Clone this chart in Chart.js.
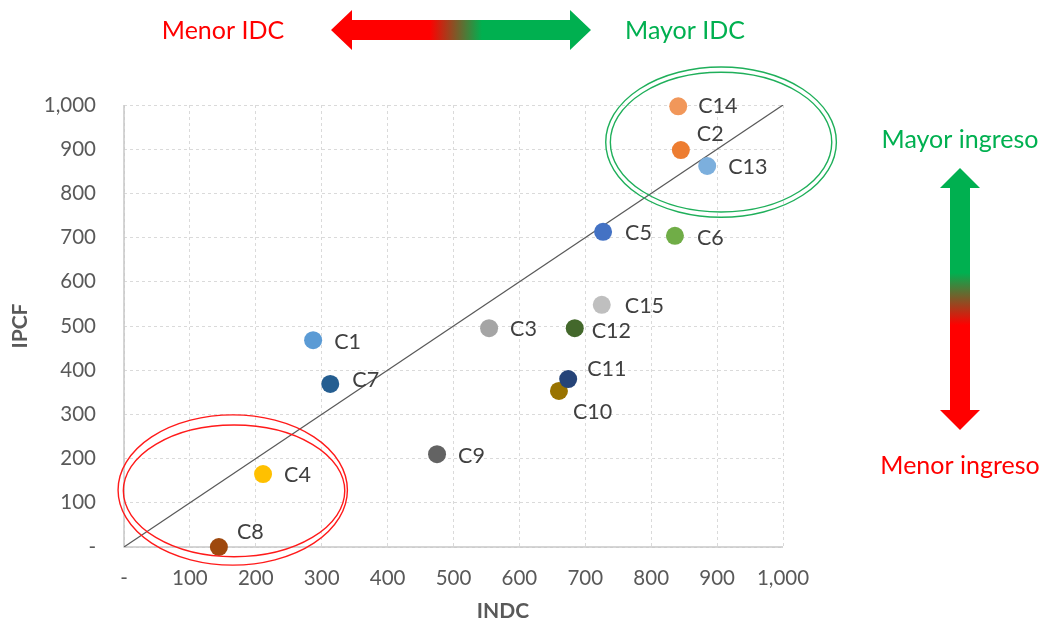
<!DOCTYPE html>
<html><head><meta charset="utf-8">
<script src="https://cdn.jsdelivr.net/npm/chart.js@4"></script>
<style>html,body{margin:0;padding:0;background:#fff}#wrap{width:1044px;height:627px}</style>
</head><body><div id="wrap"><canvas id="c" width="1044" height="627"></canvas></div>
<script>
const labels = ["C1","C2","C3","C4","C5","C6","C7","C8","C9","C10","C11","C12","C13","C14","C15"];
const indc   = [287, 845, 554, 211, 727, 836, 313, 144, 475, 660, 674, 684, 885, 841, 725];
const ipcf   = [468, 898, 495, 165, 713, 704, 369,   0, 210, 353, 380, 495, 862, 997, 548];
const colors = ["#5B9BD5","#ED7D31","#A5A5A5","#FFC000","#4472C4","#70AD47","#255E91","#9E480E","#636363","#997300","#264478","#43682B","#7CAFDD","#F1975A","#BFBFBF"];
const labelOffsets = [[21,2],[16,-16],[21,1],[21,1],[22,1],[22,2],[22,-4],[18,-15],[21,2],[14,21],[19,-10],[17,3],[21,1],[20,0],[23,1]];
const axisTicks = [0,100,200,300,400,500,600,700,800,900,1000];
const refLine = [{x:0,y:0},{x:1000,y:1000}];
// ellipses in data units: [cx, cy, rx, ry]
const greenEllipses = [[906,916,175,170],[906,916,168,158]];
const redEllipses = [[165,129,174,170],[167,127,168,149]];

const FONT = "Lato, 'Open Sans', sans-serif";
const fmt = v => v === 0 ? "-" : v.toLocaleString("en-US");

const pts = indc.map((x,i)=>({x:x, y:ipcf[i]}));

function arrowH(ctx, x1, x2, yc, shaftH, headH, headL){
  ctx.beginPath();
  ctx.moveTo(x1, yc);
  ctx.lineTo(x1+headL, yc-headH/2);
  ctx.lineTo(x1+headL, yc-shaftH/2);
  ctx.lineTo(x2-headL, yc-shaftH/2);
  ctx.lineTo(x2-headL, yc-headH/2);
  ctx.lineTo(x2, yc);
  ctx.lineTo(x2-headL, yc+headH/2);
  ctx.lineTo(x2-headL, yc+shaftH/2);
  ctx.lineTo(x1+headL, yc+shaftH/2);
  ctx.lineTo(x1+headL, yc+headH/2);
  ctx.closePath();
}
function arrowV(ctx, y1, y2, xc, shaftW, headW, headL){
  ctx.beginPath();
  ctx.moveTo(xc, y1);
  ctx.lineTo(xc+headW/2, y1+headL);
  ctx.lineTo(xc+shaftW/2, y1+headL);
  ctx.lineTo(xc+shaftW/2, y2-headL);
  ctx.lineTo(xc+headW/2, y2-headL);
  ctx.lineTo(xc, y2);
  ctx.lineTo(xc-headW/2, y2-headL);
  ctx.lineTo(xc-shaftW/2, y2-headL);
  ctx.lineTo(xc-shaftW/2, y1+headL);
  ctx.lineTo(xc-headW/2, y1+headL);
  ctx.closePath();
}

const deco = {
  id:'deco',
  beforeDatasetsDraw(chart){
    // solid axis lines
    const ctx = chart.ctx, a = chart.chartArea;
    ctx.save();
    ctx.strokeStyle = '#C8C8C8'; ctx.lineWidth = 1.5;
    ctx.beginPath();
    ctx.moveTo(a.left, a.top); ctx.lineTo(a.left, a.bottom); ctx.lineTo(a.right, a.bottom);
    ctx.stroke();
    ctx.restore();
  },
  afterDatasetsDraw(chart){
    const ctx = chart.ctx, xs = chart.scales.x, ys = chart.scales.y;
    ctx.save();
    // point labels
    ctx.font = "21.5px " + FONT;
    ctx.fillStyle = "#404040";
    ctx.textAlign = "left"; ctx.textBaseline = "middle";
    labels.forEach((l,i)=>{
      const px = xs.getPixelForValue(indc[i]), py = ys.getPixelForValue(ipcf[i]);
      ctx.fillText(l, px+labelOffsets[i][0], py+labelOffsets[i][1]);
    });
    // ellipses
    const drawE = (arr, col)=>{
      ctx.strokeStyle = col; ctx.lineWidth = 1.4;
      arr.forEach(e=>{
        const cx = xs.getPixelForValue(e[0]), cy = ys.getPixelForValue(e[1]);
        const rx = xs.getPixelForValue(e[0]+e[2]) - cx, ry = cy - ys.getPixelForValue(e[1]+e[3]);
        ctx.beginPath(); ctx.ellipse(cx, cy, rx, ry, 0, 0, Math.PI*2); ctx.stroke();
      });
    };
    drawE(greenEllipses, "#1FAF5A");
    drawE(redEllipses, "#FF1A1A");
    ctx.restore();
  },
  afterDraw(chart){
    const ctx = chart.ctx;
    ctx.save();
    // horizontal arrow
    let g = ctx.createLinearGradient(330,0,592,0);
    g.addColorStop(0,"#FF0000"); g.addColorStop(0.38,"#FF0000");
    g.addColorStop(0.58,"#00B050"); g.addColorStop(1,"#00B050");
    ctx.fillStyle = g;
    arrowH(ctx, 331, 591, 30, 20, 40, 21);
    ctx.fill();
    // vertical arrow
    g = ctx.createLinearGradient(0,168,0,430);
    g.addColorStop(0,"#00B050"); g.addColorStop(0.40,"#00B050");
    g.addColorStop(0.60,"#FF0000"); g.addColorStop(1,"#FF0000");
    ctx.fillStyle = g;
    arrowV(ctx, 168, 430, 960, 20, 40, 20);
    ctx.fill();
    // texts
    ctx.font = "25px " + FONT;
    ctx.textBaseline = "middle"; ctx.textAlign = "center";
    ctx.fillStyle = "#FF0000"; ctx.fillText("Menor IDC", 223, 31);
    ctx.fillStyle = "#00B050"; ctx.fillText("Mayor IDC", 685, 31);
    ctx.fillStyle = "#00B050"; ctx.fillText("Mayor ingreso", 960, 140);
    ctx.fillStyle = "#FF0000"; ctx.fillText("Menor ingreso", 960, 466);
    // x axis title
    ctx.font = "bold 21px " + FONT;
    ctx.fillStyle = "#595959";
    ctx.fillText("INDC", 503, 611);
    ctx.restore();
  }
};

new Chart(document.getElementById('c'), {
  type:'scatter',
  data:{datasets:[
    {type:'line', data:refLine, borderColor:'#595959', borderWidth:1.2, pointRadius:0, fill:false, order:2},
    {data:pts, pointRadius:9, pointHoverRadius:9, pointBackgroundColor:colors, pointBorderColor:colors, pointBorderWidth:0, clip:false, order:1}
  ]},
  options:{
    responsive:false, animation:false,
    plugins:{legend:{display:false}, tooltip:{enabled:false}},
    layout:{padding:{left:0, right:261, top:105, bottom:0}},
    scales:{
      x:{type:'linear', min:0, max:1000,
        afterBuildTicks: s => { s.ticks = axisTicks.map(v=>({value:v})); },
        afterFit: s => { s.height = 80; },
        grid:{color:'#DADADA', drawTicks:false},
        border:{display:false, dash:[3,3]},
        ticks:{callback:fmt, color:'#595959', font:{family:FONT, size:20.5}, padding:19, maxRotation:0, autoSkip:false}
      },
      y:{type:'linear', min:0, max:1000,
        afterBuildTicks: s => { s.ticks = axisTicks.map(v=>({value:v})); },
        afterFit: s => { s.width = 124; },
        grid:{color:'#DADADA', drawTicks:false},
        border:{display:false, dash:[3,3]},
        ticks:{callback:fmt, color:'#595959', font:{family:FONT, size:20.5}, padding:28, autoSkip:false},
        title:{display:true, text:'IPCF', color:'#595959', font:{family:FONT, size:21, weight:'bold'}, padding:{top:8,bottom:0}}
      }
    }
  },
  plugins:[deco]
});
</script></body></html>
